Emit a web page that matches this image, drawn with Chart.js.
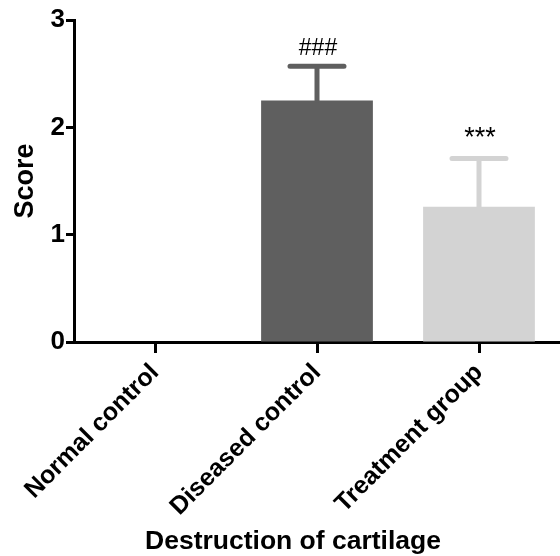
<!DOCTYPE html>
<html>
<head>
<meta charset="utf-8">
<script src="https://cdn.jsdelivr.net/npm/chart.js@4.4.1/dist/chart.umd.min.js"></script>
<style>
  html, body { margin: 0; padding: 0; background: #fff; }
  #wrap { width: 560px; height: 556px; }
</style>
</head>
<body>
<div id="wrap"><canvas id="score"></canvas></div>
<script>
const groups = ['Normal control', 'Diseased control', 'Treatment group'];
const scores = [0, 2.25, 1.26];
const errors = [0, 0.32, 0.45];
const marks = ['', '###', '***'];
const barColors = ['#5f5f5f', '#5f5f5f', '#d3d3d3'];
const yTicks = [0, 1, 2, 3];
const xTitle = 'Destruction of cartilage';

const FONT = '"Liberation Sans", Arial, sans-serif';

// error bars, significance marks and the x title
const extras = {
    id: 'extras',
    afterDatasetsDraw(chart) {
        const ctx = chart.ctx;
        const x = chart.scales.x, y = chart.scales.y;
        ctx.save();
        scores.forEach((v, i) => {
            const cx = x.getPixelForValue(i);
            const top = y.getPixelForValue(v + errors[i]);
            const base = y.getPixelForValue(v);
            if (errors[i] > 0) {
                ctx.strokeStyle = barColors[i];
                ctx.lineWidth = 5;
                ctx.lineCap = 'round';
                ctx.beginPath();
                ctx.moveTo(cx, base);
                ctx.lineTo(cx, top);
                ctx.moveTo(cx - 27, top);
                ctx.lineTo(cx + 27, top);
                ctx.stroke();
            }
            if (marks[i]) {
                const star = marks[i] === '***';
                ctx.fillStyle = '#000';
                ctx.font = (star ? '27px ' : '23px ') + FONT;
                ctx.textAlign = 'center';
                ctx.textBaseline = 'alphabetic';
                ctx.fillText(marks[i], cx + 1, top - (star ? 12 : 11));
            }
        });
        ctx.font = 'bold 26.5px ' + FONT;
        ctx.fillStyle = '#000';
        ctx.textAlign = 'center';
        ctx.textBaseline = 'alphabetic';
        ctx.fillText(xTitle, 293, 549);
        ctx.restore();
    }
};

const chart = new Chart(document.getElementById('score').getContext('2d'), {
    type: 'bar',
    data: {
        labels: groups,
        datasets: [{
            data: scores,
            backgroundColor: barColors,
            borderWidth: 0,
            barPercentage: 0.69,
            categoryPercentage: 1.0
        }]
    },
    options: {
        responsive: true,
        maintainAspectRatio: false,
        animation: { duration: 0 },
        layout: { padding: { top: 20, right: 0, left: 0, bottom: 0 } },
        plugins: { legend: { display: false }, tooltip: { enabled: false } },
        scales: {
            x: {
                offset: true,
                afterFit: (s) => { s.height = 214; },
                grid: {
                    drawOnChartArea: false,
                    offset: false,
                    tickLength: 11,
                    tickWidth: 3,
                    tickColor: '#000'
                },
                border: { color: '#000', width: 3 },
                ticks: {
                    color: '#000',
                    minRotation: 45,
                    maxRotation: 45,
                    padding: 5,
                    font: { family: FONT, size: 25, weight: 'bold' }
                }
            },
            y: {
                min: 0,
                max: 3,
                afterFit: (s) => { s.width = 74; },
                afterBuildTicks: (s) => { s.ticks = yTicks.map(v => ({ value: v })); },
                grid: {
                    drawOnChartArea: false,
                    tickLength: 8,
                    tickWidth: 3,
                    tickColor: '#000'
                },
                border: { color: '#000', width: 3 },
                ticks: {
                    color: '#000',
                    padding: 1,
                    font: { family: FONT, size: 26, weight: 'bold' }
                },
                title: {
                    display: true,
                    text: 'Score',
                    color: '#000',
                    padding: { top: 9, bottom: 0 },
                    font: { family: FONT, size: 27, weight: 'bold' }
                }
            }
        }
    },
    plugins: [extras]
});
</script>
</body>
</html>
